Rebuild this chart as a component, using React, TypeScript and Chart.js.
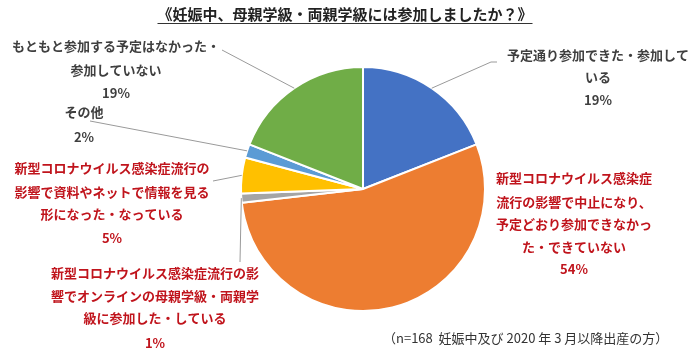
import React, { useEffect, useRef } from "react";
import { Chart, registerables } from "chart.js";

Chart.register(...registerables);

const titleText = "《妊娠中、母親学級・両親学級には参加しましたか？》";
const footnoteText = "（n=168  妊娠中及び 2020 年 3 月以降出産の方）";

const categories = [
  "予定通り参加できた・参加している",
  "新型コロナウイルス感染症流行の影響で中止になり、予定どおり参加できなかった・できていない",
  "新型コロナウイルス感染症流行の影響でオンラインの母親学級・両親学級に参加した・している",
  "新型コロナウイルス感染症流行の影響で資料やネットで情報を見る形になった・なっている",
  "その他",
  "もともと参加する予定はなかった・参加していない",
];
const counts = [32, 91, 2, 8, 3, 32];
const percentLabels = ["19%", "54%", "1%", "5%", "2%", "19%"];
const labelLines = [
  ["予定通り参加できた・参加して", "いる"],
  ["新型コロナウイルス感染症", "流行の影響で中止になり、", "予定どおり参加できなかっ", "た・できていない"],
  ["新型コロナウイルス感染症流行の影", "響でオンラインの母親学級・両親学", "級に参加した・している"],
  ["新型コロナウイルス感染症流行の", "影響で資料やネットで情報を見る", "形になった・なっている"],
  ["その他"],
  ["もともと参加する予定はなかった・", "参加していない"],
];
const sliceColors = ["#4472C4", "#ED7D31", "#A5A5A5", "#FFC000", "#5B9BD5", "#70AD47"];

const FONT = '"Noto Sans CJK JP", "Noto Sans", sans-serif';
const GRAY_TXT = "#3f3f3f";
const RED_TXT = "#c0141c";

// label layout: centre x, line centre ys, colour, leader start points (from label toward slice)
const labelLayout = [
  { x: 598, ys: [55, 77, 100], color: GRAY_TXT, leader: [[497, 62], [491, 62]] },
  { x: 574, ys: [178, 202, 224, 247, 269], color: RED_TXT, leader: null },
  { x: 155, ys: [273, 296, 318, 343], color: RED_TXT, leader: [[240, 262]] },
  { x: 112, ys: [168, 192, 214, 238], color: RED_TXT, leader: [[213, 181]] },
  { x: 84, ys: [112, 137], color: GRAY_TXT, leader: [[90, 121]] },
  { x: 116, ys: [46, 70, 93], color: GRAY_TXT, leader: [[222, 50]] },
];

const annotationPlugin = {
  id: "annotations",
  afterDraw(chart: any) {
    const ctx = chart.ctx as CanvasRenderingContext2D;
    ctx.save();
    // title
    ctx.font = `bold 15px ${FONT}`;
    ctx.fillStyle = "#222";
    ctx.textAlign = "center";
    ctx.textBaseline = "middle";
    const tx = 345;
    ctx.fillText(titleText, tx, 14);
    const tw = ctx.measureText(titleText).width;
    ctx.strokeStyle = "#333";
    ctx.lineWidth = 1.2;
    ctx.beginPath();
    ctx.moveTo(tx - tw / 2, 23.5);
    ctx.lineTo(tx + tw / 2, 23.5);
    ctx.stroke();

    // leader lines
    const meta = chart.getDatasetMeta(0);
    ctx.strokeStyle = "#9a9a9a";
    ctx.lineWidth = 1;
    meta.data.forEach((arc: any, i: number) => {
      const lay = labelLayout[i];
      if (!lay.leader) return;
      const p = arc.getProps(["x", "y", "startAngle", "endAngle", "outerRadius"], true);
      const mid = (p.startAngle + p.endAngle) / 2;
      const ex = p.x + Math.cos(mid) * p.outerRadius;
      const ey = p.y + Math.sin(mid) * p.outerRadius;
      ctx.beginPath();
      ctx.moveTo(lay.leader[0][0], lay.leader[0][1]);
      for (let k = 1; k < lay.leader.length; k++) ctx.lineTo(lay.leader[k][0], lay.leader[k][1]);
      ctx.lineTo(ex, ey);
      ctx.stroke();
    });

    // labels
    ctx.font = `bold 13px ${FONT}`;
    labelLayout.forEach((lay, i) => {
      ctx.fillStyle = lay.color;
      const lines = [...labelLines[i], percentLabels[i]];
      lines.forEach((ln, k) => {
        ctx.fillText(ln, lay.x, lay.ys[k]);
      });
    });

    // footnote
    ctx.font = `13px ${FONT}`;
    ctx.fillStyle = "#333";
    ctx.textAlign = "left";
    ctx.fillText(footnoteText, 383, 338);
    ctx.restore();
  },
};

export default function App() {
  const ref = useRef<HTMLCanvasElement>(null);
  useEffect(() => {
    document.body.style.margin = "0";
    document.body.style.background = "#fff";
    const chart = new Chart(ref.current as HTMLCanvasElement, {
      type: "pie",
      data: {
        labels: categories,
        datasets: [
          {
            data: counts,
            backgroundColor: sliceColors,
            borderColor: "#ffffff",
            borderWidth: 2,
          },
        ],
      },
      options: {
        responsive: false,
        animation: false,
        layout: { padding: { left: 240, right: 214, top: 66, bottom: 46 } },
        plugins: {
          legend: { display: false },
          tooltip: { enabled: false },
          title: { display: false },
        },
      },
      plugins: [annotationPlugin],
    });
    return () => chart.destroy();
  }, []);
  return (
    <div style={{ width: 700, height: 358, background: "#fff" }}>
      <canvas ref={ref} width={700} height={358} />
    </div>
  );
}
